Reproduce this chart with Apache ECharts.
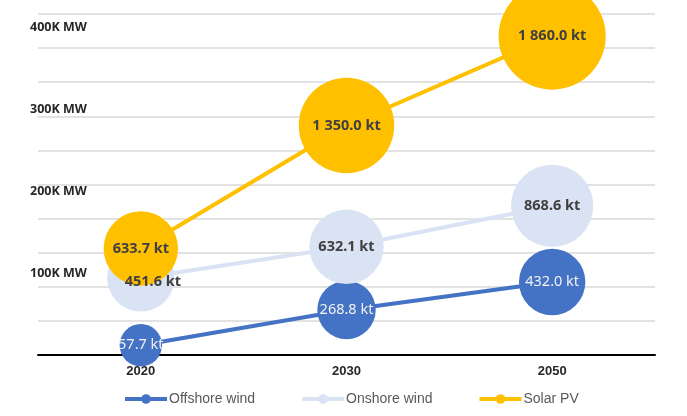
<!DOCTYPE html>
<html>
<head>
<meta charset="utf-8">
<script src="https://cdn.jsdelivr.net/npm/echarts@6/dist/echarts.min.js"></script>
<style>
  html, body { margin: 0; padding: 0; background: #fff; }
  #chart { width: 687px; height: 416px; }
</style>
</head>
<body>
<div id="chart"></div>
<script>
const years = ["2020", "2030", "2050"]
// installed capacity, MW
const offshoreMW = [12000, 55000, 89000]
const onshoreMW = [94000, 132000, 182000]
const solarMW = [130000, 280000, 389000]
// bubble labels, kt
const offshoreKt = [57.7, 268.8, 432.0]
const onshoreKt = [451.6, 632.1, 868.6]
const solarKt = [633.7, 1350.0, 1860.0]
const yTickLabels = ["100K MW", "200K MW", "300K MW", "400K MW"]

const chart = echarts.init(document.getElementById("chart"))

function fmtKt(v) {
	const parts = v.toFixed(1).split(".")
	const intPart = parts[0].replace(/\B(?=(\d{3})+(?!\d))/g, " ")
	return intPart + "." + parts[1] + " kt"
}

// bubble area roughly follows the kt value
function bubble(kt) {
	return 2 * (14.3 + 0.91 * Math.sqrt(kt))
}

function makeSeries(name, values, kts, color, labelStyle) {
	return {
		name: name,
		type: "line",
		data: values,
		symbol: "circle",
		symbolSize: function (val, params) {
			return bubble(kts[params.dataIndex])
		},
		lineStyle: { color: color, width: 4 },
		itemStyle: { color: color },
		label: Object.assign({
			show: true,
			position: "inside",
			fontFamily: "Noto Sans",
			fontSize: 14.5,
			formatter: function (p) {
				return fmtKt(kts[p.dataIndex])
			},
		}, labelStyle),
		emphasis: { disabled: true },
	}
}

const onshore = makeSeries("Onshore wind", onshoreMW, onshoreKt, "#DAE3F3", { color: "#404040", fontWeight: "bold" })
onshore.data = onshoreMW.map(function (v, i) {
	return i === 0 ? { value: v, label: { offset: [12, 4] } } : v
})

const option = {
	backgroundColor: "#fff",
	animation: false,
	grid: { left: 38, right: 32, top: 14, bottom: 61 },
	legend: {
		left: 123,
		top: 392,
		padding: 0,
		itemWidth: 42,
		itemHeight: 12,
		itemGap: 45,
		lineStyle: { width: 4 },
		textStyle: { color: "#595959", fontSize: 14, fontFamily: "Liberation Sans", padding: [0, 0, 0, -3] },
		data: ["Offshore wind", "Onshore wind", "Solar PV"],
	},
	xAxis: {
		type: "category",
		data: years,
		axisTick: { show: false },
		axisLine: { lineStyle: { color: "#000", width: 2 } },
		axisLabel: { color: "#262626", fontWeight: "bold", fontSize: 13, fontFamily: "Liberation Sans", margin: 10 },
	},
	yAxis: [
		{
			type: "value",
			min: 0,
			max: 416000,
			interval: 41600,
			axisLabel: { show: false },
			axisLine: { show: false },
			axisTick: { show: false },
			splitLine: { lineStyle: { color: "#D9D9D9", width: 1.5 } },
		},
		{
			type: "value",
			position: "left",
			min: 0,
			max: 416000,
			interval: 100000,
			axisLine: { show: false },
			axisTick: { show: false },
			splitLine: { show: false },
			axisLabel: {
				align: "left",
				margin: 8,
				color: "#262626",
				fontWeight: "bold",
				fontSize: 12.5,
				fontFamily: "Noto Sans",
				formatter: function (v) {
					const k = Math.round(v / 100000)
					return v > 0 && v % 100000 === 0 ? yTickLabels[k - 1] || "" : ""
				},
			},
		},
	],
	series: [
		makeSeries("Offshore wind", offshoreMW, offshoreKt, "#4472C4", { color: "#F2F2F2" }),
		onshore,
		makeSeries("Solar PV", solarMW, solarKt, "#FFC000", { color: "#404040", fontWeight: "bold" }),
	],
}

chart.setOption(option)
</script>
</body>
</html>
